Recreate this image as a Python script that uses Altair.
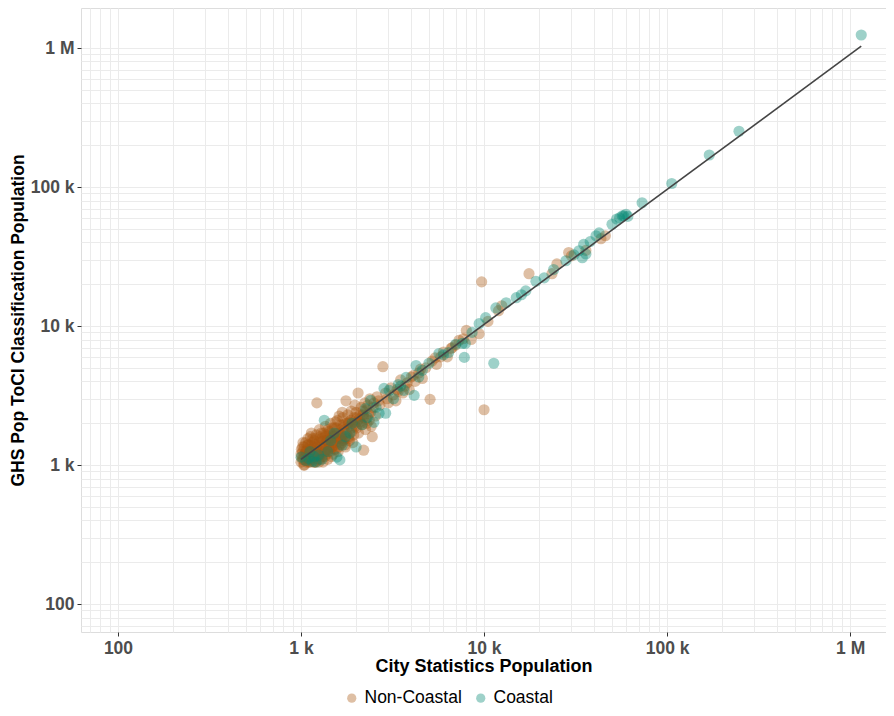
import altair as alt
import pandas as pd

# ---------------- data ----------------
noncoastal_x = [
    1000, 1010, 1020, 1030, 1040, 1050, 1060, 1070, 1080, 1090, 1100, 1110, 1120, 1130, 1140,
    1150, 1160, 1170, 1180, 1190, 1200, 1210, 1220, 1230, 1240, 1250, 1260, 1270, 1280, 1290,
    1300, 1320, 1330, 1340, 1350, 1360, 1370, 1380, 1390, 1400, 1420, 1430, 1440, 1450, 1470,
    1480, 1490, 1500, 1520, 1530, 1550, 1560, 1580, 1600, 1620, 1640, 1650, 1670, 1690, 1700,
    1720, 1750, 1770, 1790, 1800, 1820, 1850, 1870, 1900, 1920, 1950, 1980, 2000, 2030, 2060,
    2100, 2130, 2160, 2200, 2250, 2280, 2320, 2360, 2400, 2450, 2500, 2550,
    1005, 1015, 1025, 1045, 1065, 1085, 1095, 1105, 1125, 1135, 1155, 1175, 1195, 1215, 1235,
    1255, 1275, 1295, 1310, 1325, 1345, 1365, 1385, 1405, 1425, 1445, 1465, 1485, 1505, 1525,
    1545, 1575, 1595, 1615, 1635, 1660, 1680, 1710, 1740, 1760, 1810, 1840, 1880, 1910, 1940,
    1970, 2010, 2050, 2080, 2120, 2180, 2200, 2230, 2290, 2340, 2380, 2420, 2480,
    1000, 1020, 1040, 1070, 1090, 1110, 1140, 1160, 1190, 1220, 1260, 1290, 1330, 1360, 1400,
    1440, 1480, 1520, 1560, 1600, 1650, 1700, 1760, 1820, 1880, 1950, 2020, 2100, 2180, 2260,
    1035, 1075, 1115, 1145, 1185, 1245, 1285, 1355, 1415, 1475, 1535, 1605, 1675, 1745, 1830,
    2600, 2700, 2800, 2900, 3000, 3100, 3200, 3300, 3400, 3500, 3600, 3800, 3900, 4000, 4200,
    4400, 4600, 4800, 5070, 5200, 5500, 5800, 6000, 6300, 6700, 7300, 8000, 8500, 9400, 9700,
    10000, 10500, 12000, 12500, 17600, 23500, 25000, 29000, 30000, 36000, 43500, 46000,
    2650, 2950, 3350, 3700, 4100, 4500, 5400, 6600, 7000, 7700,
]
noncoastal_y = [
    1050, 1150, 1250, 1100, 1350, 1200, 1450, 1080, 1300, 1550, 1150, 1250, 1050, 1400, 1700,
    1200, 1100, 1350, 1500, 1250, 1050, 1650, 2800, 1300, 1150, 1450, 1800, 1100, 1350, 1550,
    1250, 1050, 1700, 1400, 1150, 1900, 1500, 1300, 1600, 1100, 1450, 1750, 1250, 2000, 1550,
    1350, 1650, 1200, 1850, 1450, 1700, 1300, 2100, 1550, 1800, 1400, 1950, 1650, 2200, 1500,
    1800, 1350, 2000, 1700, 2300, 1600, 1900, 2100, 1750, 1450, 2200, 1900, 2400, 2050, 1700,
    2300, 2600, 1950, 2200, 1800, 2500, 2700, 2100, 2400, 1600, 2800, 2250,
    1300, 1100, 1450, 1000, 1250, 1150, 1400, 1050, 1600, 1300, 1450, 1050, 1550, 1350, 1200,
    1050, 1600, 1400, 1150, 1500, 1250, 1650, 1200, 1800, 1350, 1550, 1150, 1850, 1600, 1300,
    2050, 1550, 1250, 2250, 1650, 1500, 2400, 1950, 1550, 2900, 2000, 1500, 2450, 2050, 1650,
    2700, 1850, 3300, 2150, 2000, 2450, 1280, 2800, 2000, 2350, 3000, 1900, 2600,
    1200, 1350, 1150, 1250, 1400, 1200, 1300, 1550, 1400, 1250, 1500, 1700, 1350, 1600, 1500,
    1700, 1450, 1600, 1850, 1700, 1550, 1850, 1700, 2050, 1850, 2000, 2200, 2050, 2300, 2150,
    1000, 1050, 1100, 1150, 1050, 1100, 1200, 1250, 1300, 1350, 1400, 1350, 1450, 1400, 1550,
    3100, 2700, 5100, 3300, 2800, 3600, 3200, 2900, 3400, 4100, 3300, 3900, 3500, 4300, 4000,
    4600, 4200, 5000, 2970, 5600, 5300, 6000, 6500, 6000, 7000, 7900, 9300, 8000, 8800, 20800,
    2500, 10800, 12900, 14000, 23800, 23800, 28000, 33800, 32000, 35000, 42500, 44600,
    2900, 3000, 3500, 3700, 4400, 4900, 5900, 6900, 7300, 8100,
]

coastal_x = [
    1000, 1060, 1100, 1150, 1210, 1250, 1300, 1340, 1400, 1450, 1570, 1630, 1680, 1750, 1850,
    2000, 2150, 2300, 2400, 2500, 2570, 2670, 2840, 2900, 3030, 3200, 3400, 3650, 3750, 4150,
    4250, 4600, 5000, 5670, 6400, 7000, 7600, 7800, 7900, 8600, 9400, 10200, 11300, 11600, 13200,
    15000, 16000, 16900, 19200, 21300, 24000, 28000, 31000, 33000, 34400, 35000, 36000, 38000,
    40900, 42500, 50000, 53000, 55000, 56900, 58000, 59600, 61000, 73000, 106000, 170000,
    247000, 1150000,
    1120, 1180, 1520, 1900, 2250, 3500, 4400, 6000,
]
coastal_y = [
    1140, 1080, 1120, 1060, 1050, 1180, 1100, 2100, 1250, 1500, 1140, 1090, 1390, 1600, 1700,
    1350, 1950, 2200, 2920, 2030, 2600, 2360, 3560, 2360, 3450, 3000, 3800, 3450, 4270, 3170,
    5200, 4800, 5400, 6350, 6450, 7400, 7500, 5950, 7500, 9000, 10400, 11500, 5400, 13500, 14700,
    16000, 16800, 17900, 21000, 22200, 25500, 29500, 32500, 34800, 31000, 38700, 33000, 40500,
    44600, 46800, 54000, 58900, 60000, 62000, 62000, 63700, 61500, 77000, 106000, 170000,
    252000, 1240000,
    1250, 1150, 1700, 2000, 2550, 3700, 4300, 6200,
]

fit_x = [1000, 1150000]
fit_y = [1100, 1030000]

categories = ["Non-Coastal", "Coastal"]
colors = ["#a9580f", "#018571"]

# ---------------- tables ----------------
pts = pd.concat([
    pd.DataFrame({"x": noncoastal_x, "y": noncoastal_y, "type": "Non-Coastal", "order": 0}),
    pd.DataFrame({"x": coastal_x, "y": coastal_y, "type": "Coastal", "order": 1}),
], ignore_index=True)
fit = pd.DataFrame({"x": fit_x, "y": fit_y})

grid_vals = [m * 10 ** e for e in range(1, 7) for m in range(1, 10)]
grid_vals = [v for v in grid_vals if 60 <= v <= 1.9e6]

is_major = "abs(log(datum.value)/LN10 - round(log(datum.value)/LN10)) < 1e-6"
label_expr = (
    f"({is_major}) ? (datum.value >= 1e6 ? format(datum.value/1e6,'d') + ' M' : "
    "datum.value >= 1e3 ? format(datum.value/1e3,'d') + ' k' : format(datum.value,'d')) : ''"
)

font = "Liberation Sans"


def make_axis(title, tpad, tsize):
    return alt.Axis(
        values=grid_vals,
        title=title,
        labelExpr=label_expr,
        labelOverlap=False,
        labelFont=font,
        labelFontSize=17.5,
        labelFontWeight="bold",
        labelColor="#4d4d4d",
        labelPadding=3,
        titleFont=font,
        titleFontSize=tsize,
        titleFontWeight="bold",
        titleColor="#000000",
        titlePadding=tpad,
        domain=False,
        grid=True,
        gridColor="#ebebeb",
        gridWidth=1,
        tickColor="#333333",
        tickSize=4,
        tickOpacity={"condition": {"test": is_major, "value": 1}, "value": 0},
    )


xscale = alt.Scale(type="log", domain=[62.8, 1.57e6], nice=False)
yscale = alt.Scale(type="log", domain=[63, 1.94e6], nice=False)

points = alt.Chart(pts).mark_circle(size=125, opacity=0.38).encode(
    x=alt.X("x:Q", scale=xscale, axis=make_axis("City Statistics Population", 1, 18)),
    y=alt.Y("y:Q", scale=yscale,
            axis=make_axis("GHS Pop ToCI Classification Population", 3, 17.5)),
    color=alt.Color(
        "type:N",
        scale=alt.Scale(domain=categories, range=colors),
        legend=alt.Legend(
            title=None,
            orient="none",
            direction="horizontal",
            legendX=262,
            legendY=681,
            labelFont=font,
            labelFontSize=17.5,
            labelColor="#000000",
            symbolType="circle",
            symbolSize=85,
            symbolOpacity=0.38,
            symbolStrokeWidth=0,
            columnPadding=10,
            labelOffset=4,
        ),
    ),
    order=alt.Order("order:Q"),
)

line = alt.Chart(fit).mark_line(color="#454545", strokeWidth=1.6).encode(
    x=alt.X("x:Q", scale=xscale),
    y=alt.Y("y:Q", scale=yscale),
)

chart = alt.layer(points, line).properties(
    width=805,
    height=624,
    autosize=alt.AutoSizeParams(type="none"),
    padding={"left": 73, "top": 0, "right": 0, "bottom": 76},
).configure_view(stroke="#4d4d4d", strokeWidth=1.2).configure(background="white")

chart.save("out.html", embed_options={"renderer": "svg", "actions": False})
